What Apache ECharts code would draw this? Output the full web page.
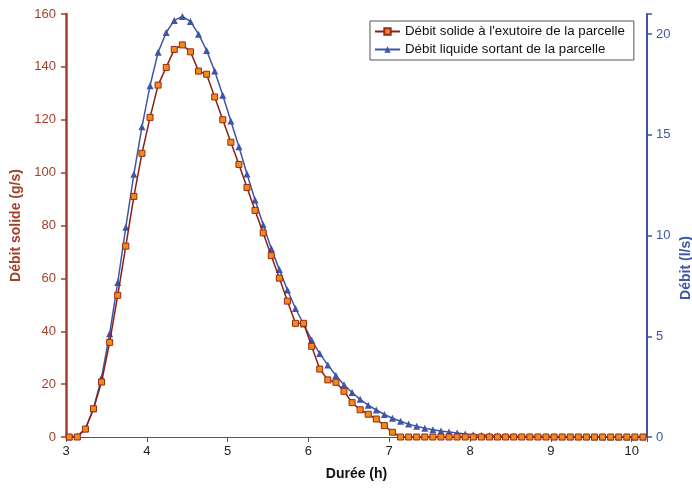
<!DOCTYPE html>
<html><head><meta charset="utf-8">
<script src="https://cdn.jsdelivr.net/npm/echarts@6/dist/echarts.min.js"></script>
<style>html,body{margin:0;padding:0;background:#fff}#c{width:692px;height:493px}</style>
</head><body><div id="c"></div>
<script>
const hours = [3.04,3.14,3.24,3.34,3.44,3.54,3.64,3.74,3.84,3.94,4.04,4.14,4.24,4.34,4.44,4.54,4.64,4.74,4.84,4.94,
5.04,5.14,5.24,5.34,5.44,5.54,5.64,5.74,5.84,5.94,6.04,6.14,6.24,6.34,6.44,6.54,6.64,6.74,6.84,6.94,
7.04,7.14,7.24,7.34,7.44,7.54,7.64,7.74,7.84,7.94,8.04,8.14,8.24,8.34,8.44,8.54,8.64,8.74,8.84,8.94,
9.04,9.14,9.24,9.34,9.44,9.54,9.64,9.74,9.84,9.94,10.04,10.14];
const solide = [0,0,3.0,10.7,20.8,35.8,53.6,72.2,91.0,107.3,120.9,133.1,139.8,146.6,148.3,145.7,138.4,137.2,128.6,120.0,
111.5,103.1,94.4,85.7,77.2,68.6,60.1,51.4,43.0,43.0,34.3,25.7,21.6,20.7,17.3,13.0,10.3,8.6,6.8,4.3,
1.8,0,0,0,0,0,0,0,0,0,0,0,0,0,0,0,0,0,0,0,0,0,0,0,0,0,0,0,0,0,0,0];
const liquide = [0,0.05,0.41,1.40,2.95,5.13,7.67,10.41,13.05,15.4,17.44,19.1,20.08,20.68,20.88,20.63,20.0,19.19,18.17,16.97,
15.69,14.41,13.06,11.77,10.54,9.36,8.31,7.30,6.38,5.61,4.81,4.14,3.58,3.05,2.59,2.21,1.87,1.58,1.34,1.12,
0.93,0.78,0.64,0.53,0.43,0.36,0.30,0.25,0.20,0.15,0.11,0.09,0.07,0.06,0.05,0.04,0.03,0.03,0.02,0.02,
0.01,0.01,0.01,0.01,0.01,0,0,0,0,0,0,0];
const seriesNames = ["Débit solide à l'exutoire de la parcelle","Débit liquide sortant de la parcelle"];
const xTitle = "Durée (h)", yLeftTitle = "Débit solide (g/s)", yRightTitle = "Débit (l/s)";

const RED = '#a3402a', BLUE = '#3f55a8', FONT = 'Liberation Sans, Arial, sans-serif';
const chart = echarts.init(document.getElementById('c'), null, {renderer:'canvas'});
chart.setOption({
  animation:false,
  textStyle:{fontFamily:FONT},
  grid:{left:66,right:45,top:14,bottom:56},
  legend:{
    left:370, top:21, orient:'vertical', itemGap:5, itemWidth:25, itemHeight:8,
    borderColor:'#555', borderWidth:1, padding:[4,9,4,4],
    textStyle:{fontSize:13.3,color:'#111',fontFamily:FONT},
    data:seriesNames
  },
  xAxis:{
    type:'value', min:3, max:10.19, interval:1,
    name:xTitle, nameLocation:'middle', nameGap:30,
    nameTextStyle:{fontSize:14,fontWeight:'bold',color:'#111'},
    axisLine:{lineStyle:{color:'#555',width:1.2}},
    axisTick:{length:5,lineStyle:{color:'#555'}},
    axisLabel:{fontSize:13,color:'#222',margin:8,formatter:v=>Number.isInteger(v)?String(v):''},
    splitLine:{show:false}
  },
  yAxis:[{
    type:'value', min:0, max:160, interval:20,
    name:yLeftTitle, nameLocation:'middle', nameGap:39,
    nameTextStyle:{fontSize:14,fontWeight:'bold',color:RED},
    axisLine:{show:true,lineStyle:{color:RED,width:2.5}},
    axisTick:{show:true,length:5,lineStyle:{color:RED,width:1.5}},
    axisLabel:{fontSize:13,color:RED,margin:10},
    splitLine:{show:false}
  },{
    type:'value', min:0, max:21, interval:5, position:'right',
    axisLine:{show:true,lineStyle:{color:BLUE,width:2}},
    axisTick:{show:true,length:5,inside:false,lineStyle:{color:BLUE,width:1.5}},
    axisLabel:{fontSize:13,color:BLUE,margin:9,formatter:v=>(v%5===0)?String(v):''},
    splitLine:{show:false}
  }],
  graphic:[{
    type:'text', x:686, y:268, rotation:Math.PI/2,
    style:{text:yRightTitle, fill:BLUE, font:'bold 14px '+FONT, textAlign:'center', textVerticalAlign:'middle'}
  }],
  series:[{
    name:seriesNames[0], type:'line', yAxisIndex:0,
    data:hours.map((h,i)=>[h,solide[i]]),
    symbol:'rect', symbolSize:6, showAllSymbol:true,
    lineStyle:{color:'#8c1f14',width:1.5},
    itemStyle:{color:'#f08a1c',borderColor:'#9a2a12',borderWidth:1},
    z:3
  },{
    name:seriesNames[1], type:'line', yAxisIndex:1,
    data:hours.map((h,i)=>[h,liquide[i]]),
    symbol:'triangle', symbolSize:7, showAllSymbol:true,
    lineStyle:{color:BLUE,width:1.5},
    itemStyle:{color:BLUE,borderWidth:0},
    z:2
  }]
});
</script></body></html>
